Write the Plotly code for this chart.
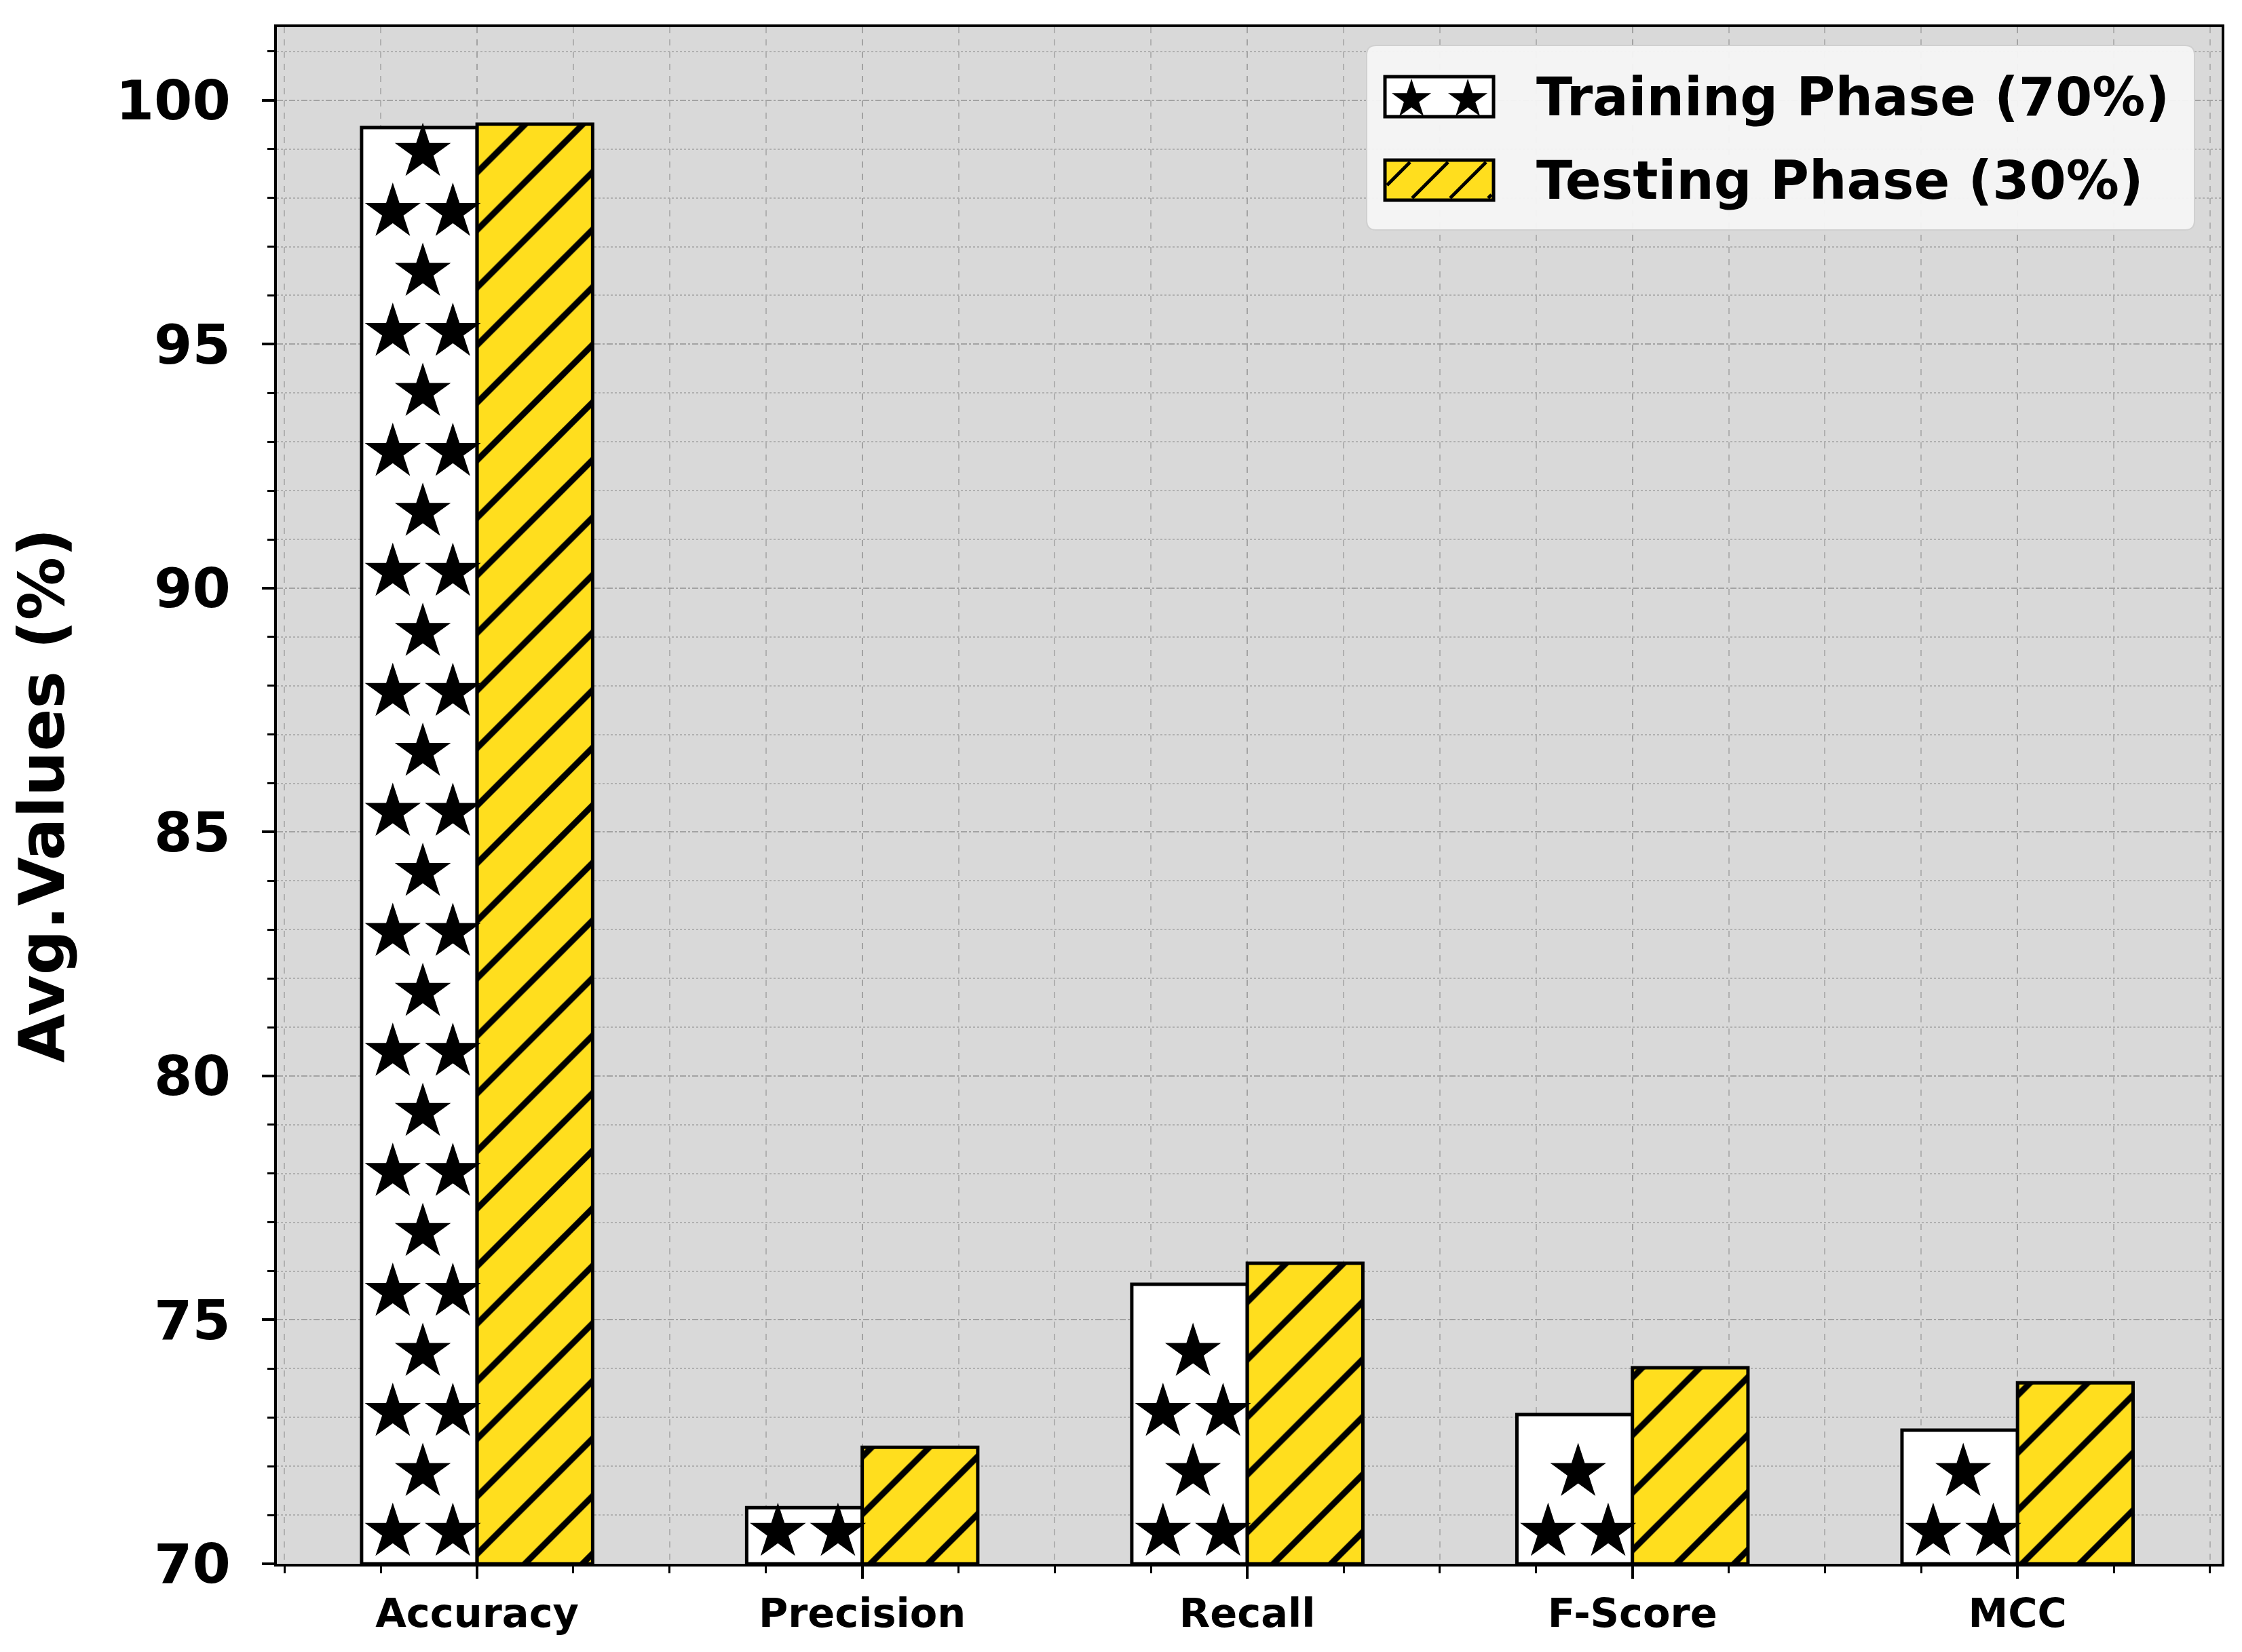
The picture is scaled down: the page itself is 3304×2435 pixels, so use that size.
import plotly.graph_objects as go
import numpy as np

categories = ["Accuracy", "Precision", "Recall", "F-Score", "MCC"]
training = [99.44, 71.15, 75.73, 73.06, 72.74]
testing = [99.51, 72.39, 76.16, 74.02, 73.71]
series_names = ["Training Phase (70%)", "Testing Phase (30%)"]

FONT = "DejaVu Sans"
YELLOW = "#FFDE1E"
BAR_W = 0.3
pos = np.arange(len(categories))

W, H = 3304, 2435
ML, MR, MT, MB = 400, 38, 32, 138


def px_x(x):
    return (x - ML) / (W - ML - MR)


def px_y(y):
    return (H - MB - y) / (H - MT - MB)


fig = go.Figure()

fig.add_trace(go.Bar(
    x=pos - BAR_W / 2, y=[v - 70 for v in training], base=70, width=BAR_W,
    name=series_names[0], showlegend=False,
    marker=dict(color="white", line=dict(color="black", width=5)),
))
fig.add_trace(go.Bar(
    x=pos + BAR_W / 2, y=[v - 70 for v in testing], base=70, width=BAR_W,
    name=series_names[1], showlegend=False,
    marker=dict(color=YELLOW, line=dict(color="black", width=5),
                pattern=dict(shape="/", fgcolor="black", fgopacity=1,
                             size=60, solidity=0.15, fillmode="overlay")),
))

# star hatch for the training bars (decoration only)
star_rows = np.arange(70.65, 101.5, 1.23)
sx, sy = [], []
for i, v in enumerate(training):
    left = pos[i] - BAR_W
    for k, yy in enumerate(star_rows):
        if yy + 0.42 > v:
            break
        fracs = [0.27, 0.79] if k % 2 == 0 else [0.53]
        for f in fracs:
            sx.append(left + BAR_W * f)
            sy.append(yy)
fig.add_trace(go.Scatter(
    x=sx, y=sy, mode="markers", showlegend=False, hoverinfo="skip",
    marker=dict(symbol="star", size=62, color="black", line=dict(width=0)),
))

axis_common = dict(
    showline=True, linewidth=4, linecolor="black", mirror=True,
    ticks="outside", ticklen=18, tickwidth=4, tickcolor="black",
    zeroline=False, showgrid=True, gridcolor="#a3a3a3", gridwidth=2,
)

fig.update_xaxes(
    range=[-0.52, 4.53], tickvals=pos, ticktext=categories,
    tickfont=dict(family=FONT, size=59, color="black", weight="bold"),
    griddash="dash",
    minor=dict(tick0=0, dtick=0.25, ticks="outside", ticklen=10, tickwidth=3,
               tickcolor="black", showgrid=True, gridcolor="#b0b0b0",
               griddash="dash", gridwidth=2),
    **axis_common,
)
fig.update_yaxes(
    range=[70, 101.5], tick0=70, dtick=5, ticklabelstandoff=30,
    tickfont=dict(family=FONT, size=81, color="black", weight="bold"),
    griddash="dashdot",
    title=dict(text="Avg.Values (%)", standoff=52,
               font=dict(family=FONT, size=93, color="black", weight="bold")),
    minor=dict(tick0=70, dtick=1, ticks="outside", ticklen=10, tickwidth=3,
               tickcolor="black", showgrid=True, gridcolor="#b0b0b0",
               griddash="dot", gridwidth=2),
    **axis_common,
)

# legend drawn by hand so the swatches can be as large as in the original
shapes = []
annotations = []
bx0, bx1, by0, by1, r = 2006, 3226, 59, 331, 14
shapes.append(dict(
    type="path", xref="paper", yref="paper", layer="above",
    path=(f"M {px_x(bx0 + r)},{px_y(by0)} L {px_x(bx1 - r)},{px_y(by0)} "
          f"Q {px_x(bx1)},{px_y(by0)} {px_x(bx1)},{px_y(by0 + r)} "
          f"L {px_x(bx1)},{px_y(by1 - r)} "
          f"Q {px_x(bx1)},{px_y(by1)} {px_x(bx1 - r)},{px_y(by1)} "
          f"L {px_x(bx0 + r)},{px_y(by1)} "
          f"Q {px_x(bx0)},{px_y(by1)} {px_x(bx0)},{px_y(by1 - r)} "
          f"L {px_x(bx0)},{px_y(by0 + r)} "
          f"Q {px_x(bx0)},{px_y(by0)} {px_x(bx0 + r)},{px_y(by0)} Z"),
    fillcolor="rgba(246,246,246,0.95)", line=dict(color="#d0d0d0", width=2),
))

sw_x0, sw_x1 = 2033, 2193
rows = [(105, 164), (228, 287)]
fills = ["white", YELLOW]
for (y0, y1), fill, name in zip(rows, fills, series_names):
    shapes.append(dict(
        type="rect", xref="paper", yref="paper", layer="above",
        x0=px_x(sw_x0), x1=px_x(sw_x1), y0=px_y(y1), y1=px_y(y0),
        fillcolor=fill, line=dict(color="black", width=5),
    ))
    annotations.append(dict(
        xref="paper", yref="paper", x=px_x(2254), y=px_y((y0 + y1) / 2),
        xanchor="left", yanchor="middle", showarrow=False, text=name,
        font=dict(family=FONT, size=78, color="black", weight="bold"),
    ))

# stars in the first swatch
for cx in (2072, 2155):
    annotations.append(dict(
        xref="paper", yref="paper", x=px_x(cx), y=px_y(136),
        xanchor="center", yanchor="middle", showarrow=False, text="★",
        font=dict(family=FONT, size=76, color="black"),
    ))

# diagonal hatch in the second swatch, clipped to the swatch
y0, y1 = rows[1]
h = y1 - y0
for xb in range(sw_x0 - h + 40, sw_x1, 56):
    xa, ya = xb, y1
    xe, ye = xb + h, y0
    if xa < sw_x0:
        ya = y1 - (sw_x0 - xa)
        xa = sw_x0
    if xe > sw_x1:
        ye = y0 + (xe - sw_x1)
        xe = sw_x1
    if xe - xa < 4:
        continue
    shapes.append(dict(
        type="line", xref="paper", yref="paper", layer="above",
        x0=px_x(xa + 3), y0=px_y(ya - 3), x1=px_x(xe - 3), y1=px_y(ye + 3),
        line=dict(color="black", width=5),
    ))

fig.update_layout(
    width=W, height=H,
    margin=dict(l=ML, r=MR, t=MT, b=MB),
    plot_bgcolor="#d9d9d9", paper_bgcolor="white",
    barmode="overlay", showlegend=False,
    font=dict(family=FONT, color="black"),
    shapes=shapes, annotations=annotations,
)

fig.write_html("out.html")
